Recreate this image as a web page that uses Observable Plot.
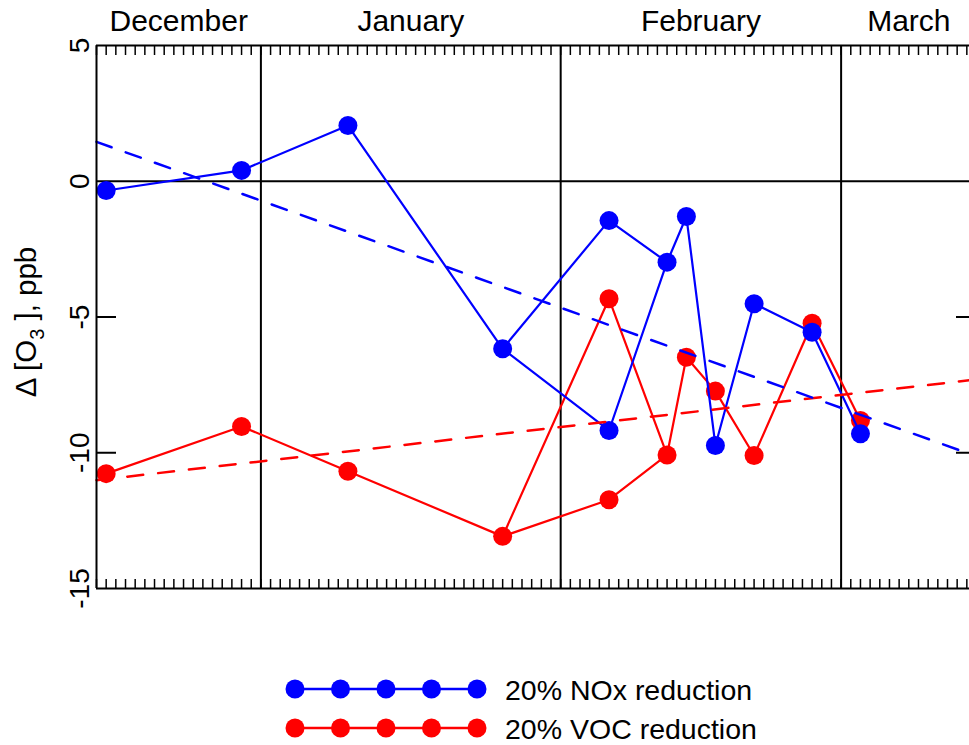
<!DOCTYPE html>
<html><head><meta charset="utf-8">
<script src="https://cdn.jsdelivr.net/npm/d3@7"></script>
<script src="https://cdn.jsdelivr.net/npm/@observablehq/plot@0.6"></script>
<style>
html,body{margin:0;padding:0;overflow:hidden;background:#fff;width:969px;height:745px}
#chart svg,#legend svg{display:block}
</style></head><body><div id="chart"></div><div id="legend"></div>
<script>
// ---- data ----
const dates = ["2011-12-16","2011-12-30","2012-01-10","2012-01-26","2012-02-06","2012-02-12","2012-02-14","2012-02-17","2012-02-21","2012-02-27","2012-03-03"];
const noxValues = [-0.34, 0.40, 2.05, -6.17, -1.45, -2.98, -1.30, -9.73, -4.51, -5.56, -9.30];
const vocValues = [-10.77, -9.03, -10.68, -13.08, -4.33, -10.08, -6.48, -7.73, -10.10, -5.23, -8.81];
// second sample on 6 Feb (joined to 26 Jan and 12 Feb)
const extraDate = "2012-02-06";
const noxExtra = -9.18;
const vocExtra = -11.73;
// dashed trend lines: values at start and end of period
const trendDates = ["2011-12-15", "2012-03-15"];
const noxTrend = [1.45, -10.13];
const vocTrend = [-11.01, -7.30];
const monthNames = ["December", "January", "February", "March"];
const yDomain = [-15, 5];
const yTicks = [5, 0, -5, -10, -15];
const innerTicks = [-5, -10];
const seriesNames = ["20% NOx reduction", "20% VOC reduction"];
const seriesColors = ["#0000ff", "#ff0000"];

// ---- build tables ----
const xDomain = trendDates.map(d => new Date(d));
function build(values, extra, name) {
  const main = dates.map((d, i) => ({date: new Date(d), value: values[i], series: name}));
  const extraPt = {date: new Date(extraDate), value: extra, series: name};
  const branch = [main[3], extraPt, main[5]];
  return {main, branch, all: main.concat([extraPt])};
}
const nox = build(noxValues, noxExtra, seriesNames[0]);
const voc = build(vocValues, vocExtra, seriesNames[1]);
const noxTrendData = trendDates.map((d, i) => ({date: new Date(d), value: noxTrend[i]}));
const vocTrendData = trendDates.map((d, i) => ({date: new Date(d), value: vocTrend[i]}));

const monthStarts = d3.utcMonth.range(d3.utcMonth.floor(xDomain[0]), xDomain[1]);
const monthLabels = monthStarts.map((m, i) => {
  const a = Math.max(+m, +xDomain[0]);
  const b = Math.min(+d3.utcMonth.offset(m, 1), +xDomain[1]);
  return {date: new Date((a + b) / 2), name: monthNames[i]};
});
const monthBoundaries = d3.utcMonth.range(d3.utcMonth.ceil(xDomain[0]), xDomain[1]);
const days = d3.utcDay.range(xDomain[0], d3.utcDay.offset(xDomain[1], 1));

const font = "'Liberation Sans', Arial, Helvetica, sans-serif";
const dash = "16 15";

const chart = Plot.plot({
  width: 969, height: 622,
  marginLeft: 96, marginRight: 0, marginTop: 45, marginBottom: 34,
  style: {fontFamily: font, fontSize: "28px", background: "white", color: "black", overflow: "hidden"},
  x: {type: "utc", domain: xDomain, range: [96, 976]},
  y: {domain: yDomain},
  marks: [
    Plot.ruleY([0], {stroke: "black", strokeWidth: 2}),
    Plot.ruleX(monthBoundaries, {stroke: "black", strokeWidth: 2}),
    Plot.line(voc.main, {x: "date", y: "value", stroke: seriesColors[1], strokeWidth: 2.2}),
    Plot.line(voc.branch, {x: "date", y: "value", stroke: seriesColors[1], strokeWidth: 2.2}),
    Plot.dot(voc.all, {x: "date", y: "value", fill: seriesColors[1], r: 9.5}),
    Plot.line(nox.main, {x: "date", y: "value", stroke: seriesColors[0], strokeWidth: 2.2}),
    Plot.line(nox.branch, {x: "date", y: "value", stroke: seriesColors[0], strokeWidth: 2.2}),
    Plot.dot(nox.all, {x: "date", y: "value", fill: seriesColors[0], r: 9.5}),
    Plot.line(vocTrendData, {x: "date", y: "value", stroke: seriesColors[1], strokeWidth: 2.5, strokeDasharray: dash}),
    Plot.line(noxTrendData, {x: "date", y: "value", stroke: seriesColors[0], strokeWidth: 2.5, strokeDasharray: dash}),
    Plot.axisX({anchor: "top", ticks: days, tickSize: -9, tickFormat: () => "", label: null, strokeWidth: 1.5}),
    Plot.axisX({anchor: "bottom", ticks: days, tickSize: -9, tickFormat: () => "", label: null, strokeWidth: 1.5}),
    Plot.axisY({anchor: "left", ticks: yTicks, tickSize: 0, tickRotate: -90, tickPadding: 8, tickFormat: d => String(d), label: null, fontSize: 28}),
    Plot.axisY({anchor: "left", ticks: innerTicks, tickSize: -20, tickFormat: () => "", label: null, strokeWidth: 2}),
    Plot.axisY({anchor: "right", ticks: innerTicks, tickSize: -14, tickFormat: () => "", label: null, strokeWidth: 2}),
    Plot.text(monthLabels, {x: "date", text: "name", frameAnchor: "top", dy: -15, lineAnchor: "bottom", fontSize: 30, fill: "black"}),
    Plot.ruleY(yDomain, {stroke: "black", strokeWidth: 2}),
    Plot.ruleX([xDomain[0]], {stroke: "black", strokeWidth: 2})
  ]
});
document.getElementById("chart").appendChild(chart);

// y-axis title with subscript
const svg = d3.select(chart);
const yt = svg.append("text")
  .attr("transform", "translate(36,322) rotate(-90)")
  .attr("text-anchor", "middle")
  .attr("font-size", 29.5)
  .attr("font-family", font)
  .attr("fill", "black");
yt.append("tspan").text("Δ [O");
yt.append("tspan").attr("font-size", 20).attr("dy", 8).text("3");
yt.append("tspan").attr("dy", -8).text(" ], ppb");

// legend
const lg = d3.select("#legend").append("svg").attr("width", 969).attr("height", 123);
const dotXs = [295, 340.5, 386, 431.5, 477];
seriesNames.forEach((name, i) => {
  const cy = 67 + i * 39;
  const g = lg.append("g");
  g.append("line").attr("x1", dotXs[0]).attr("x2", dotXs[dotXs.length - 1])
    .attr("y1", cy).attr("y2", cy).attr("stroke", seriesColors[i]).attr("stroke-width", 2.5);
  dotXs.forEach(x => g.append("circle").attr("cx", x).attr("cy", cy).attr("r", 9.5).attr("fill", seriesColors[i]));
  g.append("text").attr("x", 505).attr("y", cy + 11).attr("font-size", 28.5)
    .attr("font-family", font).attr("fill", "black").text(name);
});
</script></body></html>
